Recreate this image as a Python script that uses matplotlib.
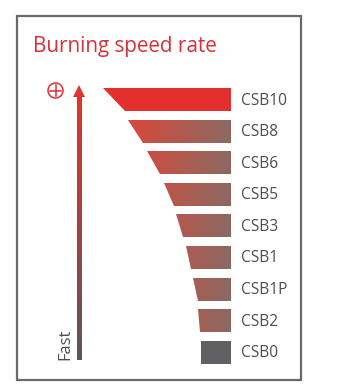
import numpy as np
import matplotlib.pyplot as plt
from matplotlib.patches import Polygon, Rectangle, Circle
from matplotlib.colors import LinearSegmentedColormap

# grades, fastest first
grades = ["CSB10", "CSB8", "CSB6", "CSB5", "CSB3", "CSB1", "CSB1P", "CSB2", "CSB0"]
# bar length along the top edge and the bottom edge of each trapezoid
top_len = [128, 103, 84, 67, 55, 45, 38, 33, 30]
bottom_len = [106, 88, 71, 57, 48, 40, 33, 31, 30]

RED = "#e3302f"
GREY = "#616062"
TEXT = "#4d4d50"
FONT = "Open Sans"

bar_cmap = LinearSegmentedColormap.from_list("burn", ["#d8483a", "#8b6a61"])
arrow_cmap = LinearSegmentedColormap.from_list("fast", ["#e0352e", "#5c5658"])

fig = plt.figure(figsize=(3.38, 3.92), dpi=100)
ax = fig.add_axes([0, 0, 1, 1])
ax.set_xlim(0, 338)
ax.set_ylim(392, 0)
ax.axis("off")

# box
ax.add_patch(Rectangle((17, 16), 284, 364, fill=False, ec="#6a6a6a", lw=1.6))
ax.text(33, 52, "Burning speed rate", color="#dc3038", fontsize=14.9,
        family=FONT, va="baseline", ha="left")

RIGHT = 231
TOP0 = 88
PITCH = 31.6
H = 23
grad = np.linspace(0, 1, 256).reshape(1, -1)

for i, (g, tl, bl) in enumerate(zip(grades, top_len, bottom_len)):
    y0 = TOP0 + i * PITCH
    poly = Polygon([(RIGHT - tl, y0), (RIGHT, y0), (RIGHT, y0 + H),
                    (RIGHT - bl, y0 + H)], closed=True, lw=0)
    if i == 0:
        poly.set_facecolor(RED)
        ax.add_patch(poly)
    elif i == len(grades) - 1:
        poly.set_facecolor(GREY)
        ax.add_patch(poly)
    else:
        poly.set_facecolor("none")
        ax.add_patch(poly)
        # colour runs across the whole chart width, not per bar
        im = ax.imshow(grad, cmap=bar_cmap, aspect="auto",
                       extent=[128, RIGHT, y0 + H, y0], interpolation="bilinear")
        im.set_clip_path(poly)
    ax.text(RIGHT + 10, y0 + H / 2 + 1, g, color=TEXT, fontsize=11.2,
            family=FONT, va="center", ha="left")

# speed arrow
shaft = Rectangle((76.5, 96), 5, 264, lw=0, fc="none")
ax.add_patch(shaft)
im = ax.imshow(grad.T, cmap=arrow_cmap, aspect="auto",
               extent=[76.5, 81.5, 360, 96], interpolation="bilinear")
im.set_clip_path(shaft)
ax.add_patch(Polygon([(73, 97), (85, 97), (79, 85)], closed=True, fc="#e0352e", lw=0))

# plus sign in a circle
ax.add_patch(Circle((55.5, 90.5), 7.5, fill=False, ec="#dc3038", lw=1.1))
ax.plot([50, 61], [90.5, 90.5], color="#dc3038", lw=1.1)
ax.plot([55.5, 55.5], [85, 96], color="#dc3038", lw=1.1)

ax.text(65, 344, "Fast", color=TEXT, fontsize=11.9, family=FONT,
        rotation=90, va="center", ha="center")

fig.savefig("out.png", dpi=100)
